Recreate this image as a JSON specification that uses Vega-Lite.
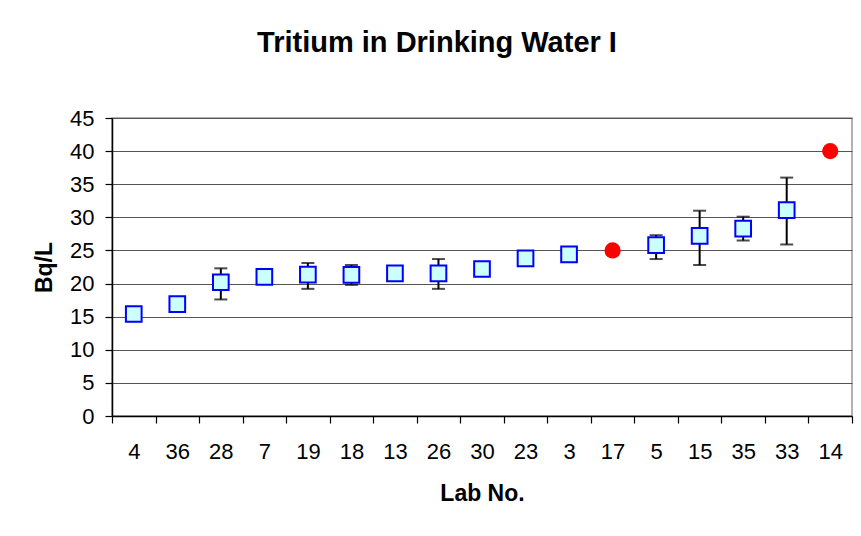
{
  "$schema": "https://vega.github.io/schema/vega-lite/v6.json",
  "width": 740,
  "height": 298,
  "autosize": {"type": "none"},
  "padding": {"left": 112, "top": 118, "right": 9, "bottom": 120},
  "background": "white",
  "title": {
    "text": "Tritium in Drinking Water I",
    "font": "Liberation Sans",
    "fontSize": 29,
    "fontWeight": "bold",
    "color": "black",
    "anchor": "middle",
    "dx": -45,
    "offset": 49
  },
  "config": {
    "view": {"stroke": "#999999", "strokeWidth": 1.5},
    "axis": {
      "labelFont": "Liberation Sans",
      "titleFont": "Liberation Sans",
      "labelFontSize": 22,
      "titleFontSize": 23,
      "labelColor": "black",
      "titleColor": "black",
      "domainColor": "black",
      "tickColor": "black",
      "domainWidth": 1.5,
      "tickWidth": 1.2
    }
  },
  "data": {
    "values": [
      {"lab": "4", "value": 15.4, "group": "lab"},
      {"lab": "36", "value": 16.9, "group": "lab"},
      {"lab": "28", "value": 20.2, "lo": 17.6, "hi": 22.3, "group": "lab"},
      {"lab": "7", "value": 21.0, "group": "lab"},
      {"lab": "19", "value": 21.35, "lo": 19.2, "hi": 23.1, "group": "lab"},
      {"lab": "18", "value": 21.3, "lo": 19.8, "hi": 22.8, "group": "lab"},
      {"lab": "13", "value": 21.55, "group": "lab"},
      {"lab": "26", "value": 21.55, "lo": 19.2, "hi": 23.7, "group": "lab"},
      {"lab": "30", "value": 22.2, "group": "lab"},
      {"lab": "23", "value": 23.8, "group": "lab"},
      {"lab": "3", "value": 24.4, "group": "lab"},
      {"lab": "17", "value": 25.0, "group": "outlier"},
      {"lab": "5", "value": 25.8, "lo": 23.7, "hi": 27.3, "group": "lab"},
      {"lab": "15", "value": 27.2, "lo": 22.8, "hi": 31.0, "group": "lab"},
      {"lab": "35", "value": 28.3, "lo": 26.5, "hi": 30.1, "group": "lab"},
      {"lab": "33", "value": 31.1, "lo": 25.9, "hi": 36.0, "group": "lab"},
      {"lab": "14", "value": 40.0, "group": "outlier"}
    ]
  },
  "encoding": {
    "x": {
      "field": "lab",
      "type": "nominal",
      "sort": null,
      "scale": {
        "type": "band",
        "paddingInner": 0,
        "paddingOuter": 0,
        "domain": ["4", "36", "28", "7", "19", "18", "13", "26", "30", "23", "3", "17", "5", "15", "35", "33", "14"]
      },
      "axis": {
        "title": "Lab No.",
        "titleFontWeight": "bold",
        "titlePadding": 20,
        "labelAngle": 0,
        "labelPadding": 18,
        "tickBand": "extent",
        "tickSize": 7,
        "grid": false
      }
    },
    "y": {
      "field": "value",
      "type": "quantitative",
      "scale": {"domain": [0, 45], "nice": false, "zero": true},
      "axis": {
        "title": "Bq/L",
        "titleFontWeight": "bold",
        "titlePadding": 13,
        "values": [0, 5, 10, 15, 20, 25, 30, 35, 40, 45],
        "tickSize": 7,
        "labelPadding": 11,
        "grid": true,
        "gridColor": "#555555",
        "gridWidth": 1
      }
    }
  },
  "layer": [
    {
      "mark": {"type": "rule", "color": "black", "strokeWidth": 2},
      "transform": [{"filter": "isValid(datum.lo)"}],
      "encoding": {
        "y": {"field": "lo", "type": "quantitative"},
        "y2": {"field": "hi"}
      }
    },
    {
      "mark": {"type": "tick", "color": "black", "size": 13, "thickness": 2, "orient": "horizontal"},
      "transform": [{"filter": "isValid(datum.lo)"}],
      "encoding": {"y": {"field": "lo", "type": "quantitative"}}
    },
    {
      "mark": {"type": "tick", "color": "black", "size": 13, "thickness": 2, "orient": "horizontal"},
      "transform": [{"filter": "isValid(datum.hi)"}],
      "encoding": {"y": {"field": "hi", "type": "quantitative"}}
    },
    {
      "mark": {"type": "square", "filled": true, "fill": "#CCFFFF", "stroke": "#0000FF", "strokeWidth": 2, "size": 246, "opacity": 1},
      "transform": [{"filter": "datum.group == 'lab'"}]
    },
    {
      "mark": {"type": "circle", "color": "#FF0000", "size": 263, "opacity": 1},
      "transform": [{"filter": "datum.group == 'outlier'"}]
    }
  ]
}
